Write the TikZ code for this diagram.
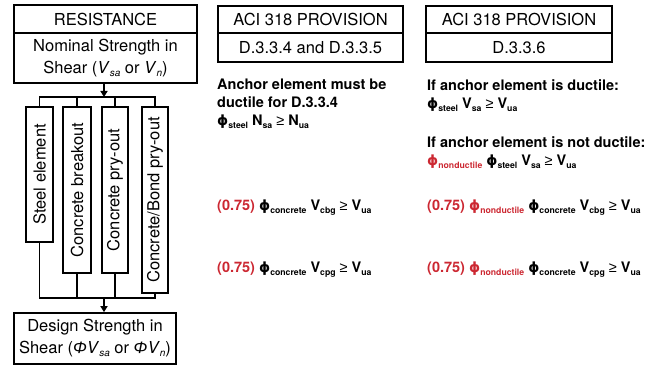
\documentclass[tikz,border=0pt]{standalone}
\usepackage{fontspec}
\setmainfont{TeX Gyre Heros}
\newfontfamily\grk{Liberation Sans}
\newfontfamily\phfont{DejaVu Sans}
\usetikzlibrary{arrows.meta}
\definecolor{accred}{RGB}{204,40,50}
% small subscripts for the bold inequalities
\newcommand\sbs[1]{\raisebox{-0.4ex}{\fontsize{8.7}{9}\selectfont #1}}
% italic subscripts for the box labels
\newcommand\lsub[1]{\raisebox{-0.35ex}{\fontsize{10}{10}\selectfont\itshape #1}}
\newcommand\phib{{\phfont\bfseries\fontsize{14}{18}\selectfont ϕ}}
\newcommand\geqs{{\grk\mdseries\ ≥\ }}
\begin{document}
\begin{tikzpicture}[x=1pt,y=-1pt,
  box/.style={draw, line width=1.7pt, inner sep=0pt, font=\fontsize{16.5}{22}\selectfont, align=center},
  vbox/.style={box, rotate=90},
  eq/.style={font=\bfseries\fontsize{14.5}{18}\selectfont, align=left, anchor=west, inner sep=0pt},
  wire/.style={line width=1.7pt},
  arr/.style={wire, -{Triangle[length=6pt,width=7pt]}}]
\useasboundingbox (0,0) rectangle (664,366);

% resistance column
\node[box, minimum width=183pt, minimum height=28pt] (res) at (105.5,19) {RESISTANCE};
\node[box, minimum width=183pt, minimum height=50pt] (nom) at (105.5,58)
  {Nominal Strength in\\Shear (\textit{V}\lsub{sa} or \textit{V}\lsub{n})};

\node[vbox, minimum width=135pt, minimum height=27pt] (b1) at (39.5,174.5) {Steel element};
\node[vbox, minimum width=166pt, minimum height=28pt] (b2) at (77,190) {Concrete breakout};
\node[vbox, minimum width=166pt, minimum height=26pt] (b3) at (115,190) {Concrete pry-out};
\node[vbox, minimum width=186pt, minimum height=26pt] (b4) at (155,200) {Concrete/Bond pry-out};

\node[box, minimum width=162pt, minimum height=51pt] (des) at (95,338.5)
  {Design Strength in\\Shear ({\grk\itshape Φ}\textit{V}\lsub{sa} or {\grk\itshape Φ}\textit{V}\lsub{n})};

\coordinate (topbus) at (104,97);
\coordinate (botbus) at (104,298);
\draw[arr] (topbus |- nom.south) -- (topbus);
\draw[wire] (b1.east) |- (b4.center |- topbus) -- (b4.east);
\draw[wire] (b2.east) -- (b2.center |- topbus);
\draw[wire] (b3.east) -- (b3.center |- topbus);
\draw[wire] (b1.west) |- (b4.center |- botbus) -- (b4.west);
\draw[wire] (b2.west) -- (b2.center |- botbus);
\draw[wire] (b3.west) -- (b3.center |- botbus);
\draw[arr] (botbus) -- (botbus |- des.north);

% provision headers
\node[box, minimum width=185pt, minimum height=27pt] (p1) at (310.5,19.5) {ACI 318 PROVISION};
\node[box, minimum width=185pt, minimum height=29pt] (p1s) at (310.5,47.5) {D.3.3.4 and D.3.3.5};
\node[box, minimum width=186pt, minimum height=27pt] (p2) at (519,19.5) {ACI 318 PROVISION};
\node[box, minimum width=186pt, minimum height=29pt] (p2s) at (519,47.5) {D.3.3.6};

% D.3.3.4 / D.3.3.5 checks
\node[eq, anchor=north west] (l1) at (217,79) {Anchor element must be\\ductile for D.3.3.4\\
  \phib\sbs{steel} N\sbs{sa}\geqs N\sbs{ua}};
\node[eq] (l2) at (217,208) {\textcolor{accred}{(0.75)} \phib\sbs{concrete} V\sbs{cbg}\geqs V\sbs{ua}};
\node[eq] (l3) at (217,270) {\textcolor{accred}{(0.75)} \phib\sbs{concrete} V\sbs{cpg}\geqs V\sbs{ua}};

% D.3.3.6 checks
\node[eq, anchor=north west] (r1) at (427,79) {If anchor element is ductile:\\
  \phib\sbs{steel} V\sbs{sa}\geqs V\sbs{ua}};
\node[eq, anchor=north west] (r2) at (427,136) {If anchor element is not ductile:\\
  \textcolor{accred}{\phib\sbs{nonductile}} \phib\sbs{steel} V\sbs{sa}\geqs V\sbs{ua}};
\node[eq] (r3) at (427,208) {\textcolor{accred}{(0.75) \phib\sbs{nonductile}} \phib\sbs{concrete} V\sbs{cbg}\geqs V\sbs{ua}};
\node[eq] (r4) at (427,270) {\textcolor{accred}{(0.75) \phib\sbs{nonductile}} \phib\sbs{concrete} V\sbs{cpg}\geqs V\sbs{ua}};
\end{tikzpicture}
\end{document}
